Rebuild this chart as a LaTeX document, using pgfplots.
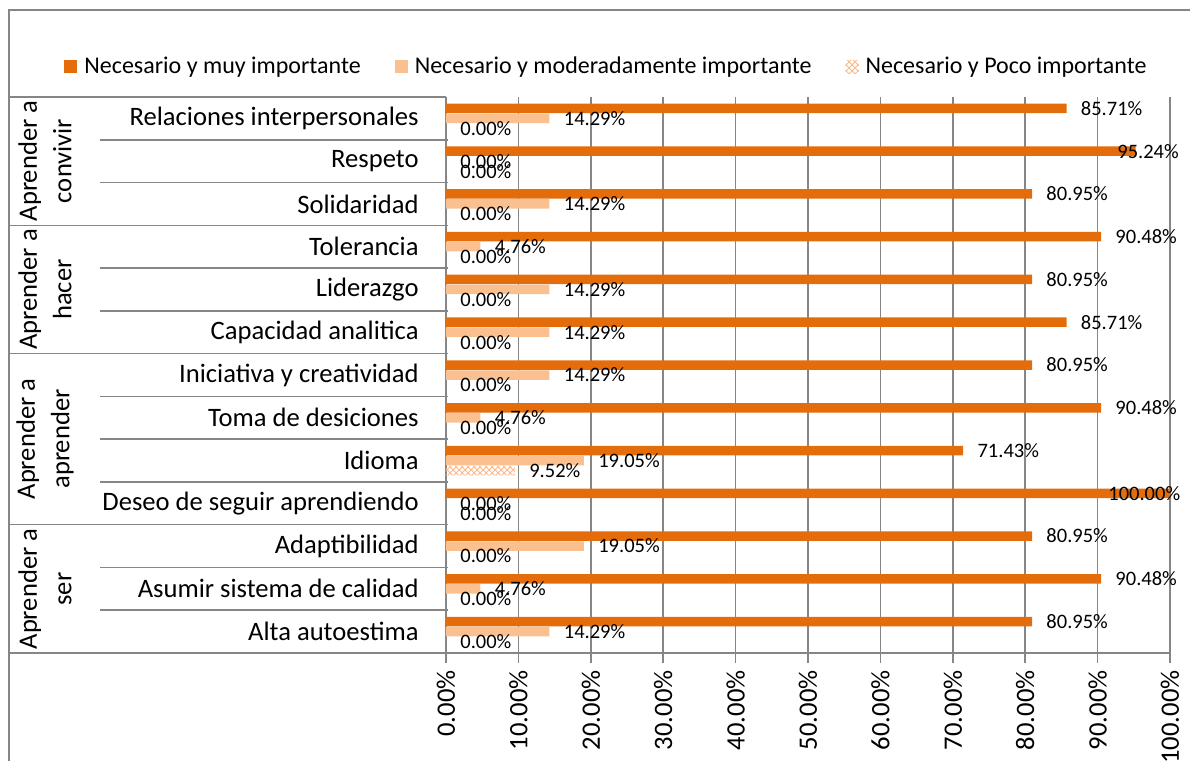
\documentclass[border=0pt]{standalone}
\usepackage{fontspec}
\setmainfont{Carlito}
\usepackage{pgfplots}
\usepackage{pgfplotstable}
\pgfplotsset{compat=1.18}
\usetikzlibrary{patterns}
\definecolor{dorange}{RGB}{228,108,10}
\definecolor{lorange}{RGB}{250,192,144}
\definecolor{porange}{RGB}{248,185,140}
\definecolor{gridgray}{RGB}{134,134,134}
\newcommand\cat{\fontsize{13.3}{16}\selectfont}
\newcommand\grp{\fontsize{13.3}{17.2}\selectfont}
\newcommand\lab{\fontsize{10.25}{12}\selectfont}
\newcommand\leg{\fontsize{12}{14}\selectfont}
\pgfplotstableread{
y dark light poco
0 80.95 14.29 0
1 90.48 4.76 0
2 80.95 19.05 0
3 100 0 0
4 71.43 19.05 9.52
5 90.48 4.76 0
6 80.95 14.29 0
7 85.71 14.29 0
8 80.95 14.29 0
9 90.48 4.76 0
10 80.95 14.29 0
11 95.24 0 0
12 85.71 14.29 0
}\data
\begin{document}
\begin{tikzpicture}
\useasboundingbox (0,0) rectangle (595pt,380.5pt);
\begin{axis}[
  at={(223pt,54pt)}, anchor=south west,
  scale only axis, width=362pt, height=278pt,
  xbar, bar width=4.75pt,
  xmin=0, xmax=100, ymin=-0.5, ymax=12.5,
  clip=false,
  /pgf/number format/assume math mode=true,
  axis x line*=bottom, axis y line*=left,
  axis line style={gridgray, line width=0.75pt, -},
  xtick={0,10,...,100},
  xticklabel={\pgfmathprintnumber[fixed,fixed zerofill,precision=2]{\tick}\%},
  xticklabel style={yshift=-3.5pt, rotate=90, anchor=east, inner sep=0pt, font=\cat},
  tick align=outside, major tick length=5pt,
  xtick style={gridgray, line width=0.75pt},
  ytick={0,...,12},
  ytick style={draw=none},
  yticklabels={Alta autoestima, Asumir sistema de calidad, Adaptibilidad, Deseo de seguir aprendiendo, Idioma, Toma de desiciones, Iniciativa y creatividad, Capacidad analitica, Liderazgo, Tolerancia, Solidaridad, Respeto, Relaciones interpersonales},
  yticklabel style={anchor=east, inner sep=0pt, font=\cat, xshift=-8.5pt},
  xmajorgrids, major grid style={gridgray, line width=0.75pt},
  point meta=x,
  visualization depends on={rawx \as \rx},
  nodes near coords={\pgfmathprintnumber[fixed,fixed zerofill,precision=2]{\pgfplotspointmeta}\%},
  every node near coord/.append style={font=\lab, text=black, anchor=west, inner sep=0pt,
     /utils/exec={\pgfmathsetmacro\lblshift{min(7,335.5-3.62*\rx-4.5*(\rx>99.9))}},
     xshift=\lblshift pt},
  legend columns=3,
  legend style={at={(-0.5276,1.054)}, anchor=west, draw=none, fill=none, inner sep=0pt,
     font=\leg, nodes={inner sep=0pt},
     /tikz/every odd column/.append style={column sep=3.5pt},
     /tikz/every even column/.append style={column sep=17pt}},
  sq/.style={legend image code/.code={\path[##1] (0pt,-3.25pt) rectangle (6.5pt,3.25pt);}},
]
\addplot[fill=dorange, draw=none, bar shift=5pt, sq] table[x=dark,y=y] {\data};
\addplot[fill=lorange, draw=none, bar shift=0pt, sq] table[x=light,y=y] {\data};
\addplot[pattern=crosshatch, pattern color=porange, draw=none, bar shift=-5pt, sq] table[x=poco,y=y] {\data};
\legend{Necesario y muy importante, Necesario y moderadamente importante, Necesario y Poco importante}
\end{axis}
\begin{scope}[x=0.5pt,y=-0.5pt,yshift=380.5pt, gridgray, line width=0.75pt]
  \draw (9,761) -- (9,10) -- (1190,10);
  \draw (9,97) -- (446,97);
  \foreach \k in {1,2,4,5,7,8,9,11,12} {\draw (100,{97+42.77*\k}) -- (448,{97+42.77*\k});}
  \foreach \k in {3,6,10,13} {\draw (9,{97+42.77*\k}) -- (448,{97+42.77*\k});}
  \node[text=black, rotate=90, align=center, font=\grp, inner sep=0pt] at (45,161) {Aprender a\\convivir};
  \node[text=black, rotate=90, align=center, font=\grp, inner sep=0pt] at (45,289.5) {Aprender a\\hacer};
  \node[text=black, rotate=90, align=center, font=\grp, inner sep=0pt] at (45,439) {Aprender a\\aprender};
  \node[text=black, rotate=90, align=center, font=\grp, inner sep=0pt] at (45,589) {Aprender a\\ser};
\end{scope}
\end{tikzpicture}
\end{document}
